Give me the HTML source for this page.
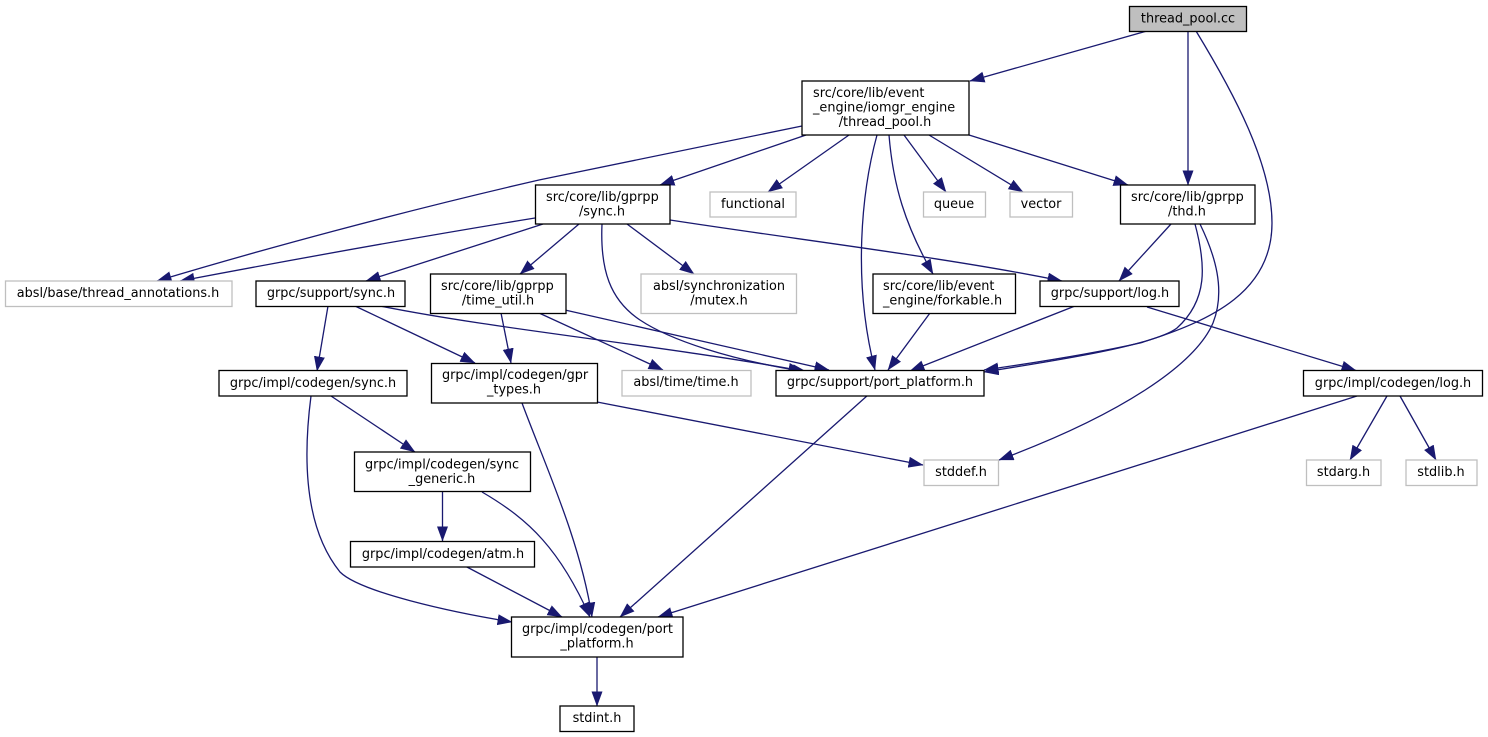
<!DOCTYPE html>
<html><head><meta charset="utf-8"><title>thread_pool.cc</title>
<style>
html,body{margin:0;padding:0;background:#fff;}
svg{display:block;}
text{font-family:"DejaVu Sans",sans-serif;font-size:12.85px;fill:#000;}
.n{fill:#fff;stroke:#000;stroke-width:1.3;}
.g{fill:#fff;stroke:#bfbfbf;stroke-width:1.3;}
.e{fill:none;stroke:#191970;stroke-width:1.3;marker-end:url(#a);}
.m{text-anchor:middle;}
</style></head><body>
<svg width="1488" height="737" viewBox="0 0 1488 737" xmlns="http://www.w3.org/2000/svg">
<defs><marker id="a" markerUnits="userSpaceOnUse" markerWidth="16" markerHeight="12" refX="14.5" refY="5.5" orient="auto"><path d="M0,0 L15,5.5 L0,11 Z" fill="#191970"/></marker></defs>

<path class="e" d="M1147,31 L970,81"/>
<path class="e" d="M1188,31 L1188,185"/>
<path class="e" d="M1196,31 C1235,95 1272,165 1272,223 C1272,290 1215,320 1140,343 C1100,352 1040,362 984,370"/>
<path class="e" d="M1195,224 C1206,265 1208,300 1177,328 C1155,345 1060,360 984,372"/>
<path class="e" d="M1171,224 L1119,281"/>
<path class="e" d="M1200,224 C1215,255 1226,290 1213,323 C1195,365 1120,415 999,460"/>
<path class="e" d="M802,126 C700,147 620,163 539,180 C400,212 260,250 157,281"/>
<path class="e" d="M535,218 C400,240 280,262 180,281"/>
<path class="e" d="M806,135 L660,185"/>
<path class="e" d="M849,135 L768,192"/>
<path class="e" d="M877,135 C862,190 852,280 875,370"/>
<path class="e" d="M889,135 C893,185 905,225 933,274"/>
<path class="e" d="M904,135 L946,192"/>
<path class="e" d="M929,135 L1023,192"/>
<path class="e" d="M969,135 L1128,185"/>
<path class="e" d="M543,224 L366,281"/>
<path class="e" d="M579,224 L520,274"/>
<path class="e" d="M627,224 L694,274"/>
<path class="e" d="M602,224 C600,270 610,300 640,320 C670,340 730,360 807,372"/>
<path class="e" d="M670,220 C800,240 950,258 1062,281"/>
<path class="e" d="M328,306 L317,371"/>
<path class="e" d="M355,306 L475,363"/>
<path class="e" d="M380,306 C500,330 660,345 803,371"/>
<path class="e" d="M501,313 L511,363"/>
<path class="e" d="M539,313 L663,370"/>
<path class="e" d="M565,310 L829,370"/>
<path class="e" d="M930,313 L888,370"/>
<path class="e" d="M1075,306 L910,371"/>
<path class="e" d="M1147,307 L1356,370.5"/>
<path class="e" d="M597,402 L923,465"/>
<path class="e" d="M522,403 C545,465 580,540 592,617"/>
<path class="e" d="M868,395 L620,617"/>
<path class="e" d="M311,396 C304,450 302,525 340,572 C360,592 450,612 512,622"/>
<path class="e" d="M331,396 L415,452"/>
<path class="e" d="M442.5,491 L442.5,541"/>
<path class="e" d="M482,492 C530,520 560,550 590,617"/>
<path class="e" d="M465,566 L562,617"/>
<path class="e" d="M1357,396 L658,617"/>
<path class="e" d="M1387,396 L1350,460"/>
<path class="e" d="M1400,396 L1436,460"/>
<path class="e" d="M597,657 L597,706"/>

<rect x="1129.5" y="6.5" width="117" height="25" fill="#bfbfbf" stroke="#000" stroke-width="1.3"/>
<text class="m" x="1188" y="22.5">thread_pool.cc</text>

<rect class="n" x="802" y="81" width="167" height="54"/>
<text x="813" y="97">src/core/lib/event</text>
<text x="813" y="111.5">_engine/iomgr_engine</text>
<text class="m" x="885" y="126">/thread_pool.h</text>

<rect class="n" x="1120.5" y="185" width="134.5" height="39"/>
<text x="1131" y="201">src/core/lib/gprpp</text>
<text class="m" x="1187" y="215.5">/thd.h</text>

<rect class="n" x="535.5" y="185" width="134.5" height="39"/>
<text x="546" y="201">src/core/lib/gprpp</text>
<text class="m" x="602" y="215.5">/sync.h</text>

<rect class="g" x="710" y="192" width="86" height="25"/>
<text class="m" x="753" y="208">functional</text>
<rect class="g" x="923.5" y="192" width="62" height="25"/>
<text class="m" x="954" y="208">queue</text>
<rect class="g" x="1010" y="192" width="62.5" height="25"/>
<text class="m" x="1041" y="208">vector</text>

<rect class="g" x="5.5" y="281" width="226.5" height="25.5"/>
<text class="m" x="118" y="297">absl/base/thread_annotations.h</text>
<rect class="n" x="256" y="281" width="149" height="25.5"/>
<text class="m" x="331" y="297">grpc/support/sync.h</text>

<rect class="n" x="430.5" y="274" width="135.5" height="39.5"/>
<text x="441" y="290">src/core/lib/gprpp</text>
<text class="m" x="498" y="304.5">/time_util.h</text>

<rect class="g" x="641" y="274" width="155.5" height="39.5"/>
<text class="m" x="719" y="290">absl/synchronization</text>
<text class="m" x="719" y="304.5">/mutex.h</text>

<rect class="n" x="873" y="274" width="142.5" height="39.5"/>
<text x="883" y="290">src/core/lib/event</text>
<text x="883" y="304.5">_engine/forkable.h</text>

<rect class="n" x="1040" y="281" width="139" height="25.5"/>
<text class="m" x="1110" y="297">grpc/support/log.h</text>

<rect class="g" x="622" y="370.5" width="129" height="25.5"/>
<text class="m" x="686" y="386">absl/time/time.h</text>
<rect class="n" x="776" y="370.5" width="208" height="25.5"/>
<text class="m" x="880" y="386">grpc/support/port_platform.h</text>

<rect class="n" x="431.5" y="363.5" width="166" height="39.5"/>
<text x="442" y="379">grpc/impl/codegen/gpr</text>
<text class="m" x="514" y="393.5">_types.h</text>

<rect class="n" x="219" y="370.5" width="188" height="25.5"/>
<text class="m" x="313" y="387">grpc/impl/codegen/sync.h</text>
<rect class="n" x="1303.5" y="370.5" width="179" height="25.5"/>
<text class="m" x="1393" y="387">grpc/impl/codegen/log.h</text>

<rect class="n" x="354.5" y="452" width="176" height="39.5"/>
<text x="365" y="468.5">grpc/impl/codegen/sync</text>
<text class="m" x="442" y="483">_generic.h</text>

<rect class="g" x="924" y="460" width="74.5" height="25.5"/>
<text class="m" x="961" y="476">stddef.h</text>
<rect class="g" x="1306.5" y="460" width="74.5" height="25.5"/>
<text class="m" x="1343.5" y="476">stdarg.h</text>
<rect class="g" x="1406" y="460" width="71" height="25.5"/>
<text class="m" x="1441" y="476">stdlib.h</text>

<rect class="n" x="350.5" y="541.5" width="184" height="25.5"/>
<text class="m" x="443" y="558">grpc/impl/codegen/atm.h</text>

<rect class="n" x="511.5" y="617" width="171.5" height="40"/>
<text x="522" y="633">grpc/impl/codegen/port</text>
<text class="m" x="597" y="647.5">_platform.h</text>

<rect class="n" x="560" y="706" width="74" height="25.5"/>
<text class="m" x="597" y="722">stdint.h</text>
</svg>
</body></html>
